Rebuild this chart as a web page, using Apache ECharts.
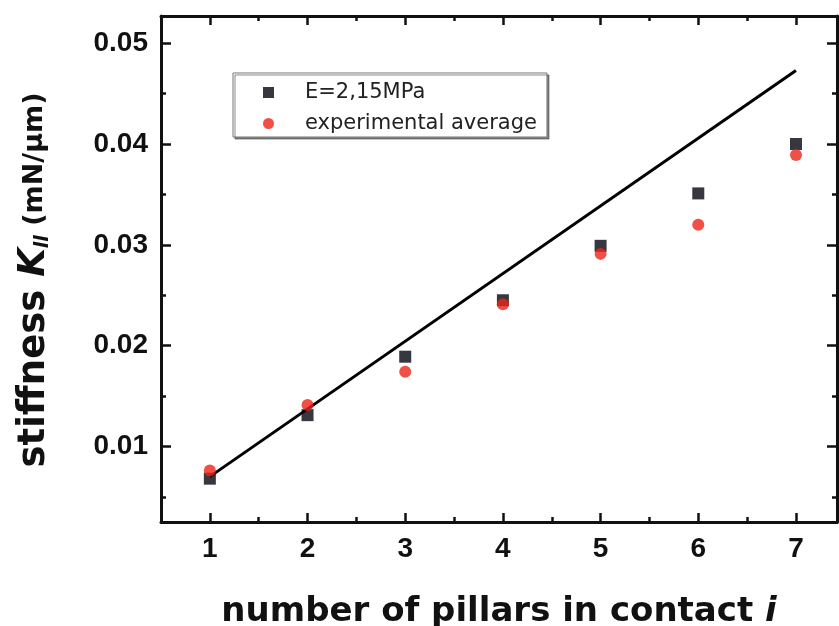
<!DOCTYPE html>
<html>
<head>
<meta charset="utf-8">
<script src="https://cdn.jsdelivr.net/npm/echarts@6/dist/echarts.min.js"></script>
<style>
html,body{margin:0;padding:0;background:#fff;}
#chart{width:839px;height:626px;}
</style>
</head>
<body>
<div id="chart"></div>
<script>
// ---- data ----
const pillars = [1, 2, 3, 4, 5, 6, 7];
const modelE = [0.0068, 0.0131, 0.0189, 0.0245, 0.0299, 0.0351, 0.0400];
const expAvg = [0.0076, 0.0141, 0.0174, 0.0241, 0.0291, 0.0320, 0.0389];
const fitX = [1, 7];
const fitY = [0.0070, 0.0473];
const seriesNames = ['E=2,15MPa', 'experimental average'];
const xMajorTicks = [1, 2, 3, 4, 5, 6, 7];
const xMinorTicks = [1.5, 2.5, 3.5, 4.5, 5.5, 6.5];
const yMajorTicks = [0.01, 0.02, 0.03, 0.04, 0.05];
const yMinorTicks = [0.005, 0.015, 0.025, 0.035, 0.045];

const FONT = 'Liberation Sans, Arial, Helvetica, sans-serif';
const WIDE = 'DejaVu Sans, Liberation Sans, sans-serif';
const X_MIN = 0.5, X_MAX = 7.42, Y_MIN = 0.0025, Y_MAX = 0.0527;
const AX = '#111';

function xAx(pos, ticks, len, showLine, showLabel, extra) {
  return Object.assign({
    type: 'value', position: pos, min: X_MIN, max: X_MAX,
    axisLine: {show: showLine, onZero: false, lineStyle: {color: AX, width: 3}},
    axisTick: {show: true, inside: true, length: len, customValues: ticks, lineStyle: {color: AX, width: 2.5}},
    axisLabel: showLabel ? {show: true, customValues: ticks, fontSize: 28, fontWeight: 'bold', fontFamily: FONT, color: AX, margin: 13} : {show: false},
    splitLine: {show: false}
  }, extra || {});
}
function yAx(pos, ticks, len, showLine, showLabel, extra) {
  return Object.assign({
    type: 'value', position: pos, min: Y_MIN, max: Y_MAX,
    axisLine: {show: showLine, onZero: false, lineStyle: {color: AX, width: 3}},
    axisTick: {show: true, inside: true, length: len, customValues: ticks, lineStyle: {color: AX, width: 2.5}},
    axisLabel: showLabel ? {show: true, customValues: ticks, fontSize: 28, fontWeight: 'bold', fontFamily: FONT, color: AX, margin: 13} : {show: false},
    splitLine: {show: false}
  }, extra || {});
}

const chart = echarts.init(document.getElementById('chart'), null, {renderer: 'canvas'});
chart.setOption({
  backgroundColor: '#fff',
  animation: false,
  grid: {left: 161, right: 2, top: 16, bottom: 104, containLabel: false, outerBoundsMode: 'none'},
  xAxis: [
    xAx('bottom', xMajorTicks, 9, true, true, {
      name: '{n|number of pillars in contact }{i|i}',
      nameLocation: 'middle', nameGap: 73,
      nameTextStyle: {
        rich: {
          n: {fontSize: 34, fontWeight: 'bold', fontFamily: WIDE, color: AX},
          i: {fontSize: 34, fontWeight: 'bold', fontStyle: 'italic', fontFamily: WIDE, color: AX}
        }
      }
    }),
    xAx('bottom', xMinorTicks, 5, false, false),
    xAx('top', xMajorTicks, 9, true, false),
    xAx('top', xMinorTicks, 5, false, false)
  ],
  yAxis: [
    yAx('left', yMajorTicks, 10, true, true, {
      name: '{a|stiffness }{k|K}{s|ll}{b| (mN/\u03bcm)}',
      nameLocation: 'middle', nameGap: 108, nameRotate: 90,
      nameTextStyle: {
        rich: {
          a: {fontSize: 37, fontWeight: 'bold', fontFamily: WIDE, color: AX},
          k: {fontSize: 37, fontWeight: 'bold', fontStyle: 'italic', fontFamily: WIDE, color: AX},
          s: {fontSize: 19, fontWeight: 'bold', fontStyle: 'italic', fontFamily: WIDE, color: AX, verticalAlign: 'bottom', padding: [14, 0, 0, 0]},
          b: {fontSize: 27, fontWeight: 'bold', fontFamily: WIDE, color: AX, padding: [0, 22, 0, 0]}
        }
      }
    }),
    yAx('left', yMinorTicks, 5, false, false),
    yAx('right', yMajorTicks, 10, true, false),
    yAx('right', yMinorTicks, 5, false, false)
  ],
  legend: {
    orient: 'vertical', left: 233, top: 73,
    data: seriesNames,
    itemWidth: 11, itemHeight: 11, itemGap: 10,
    padding: [9, 10, 3, 30],
    borderColor: '#777', borderWidth: 1, backgroundColor: '#fff',
    shadowColor: 'rgba(0,0,0,0.45)', shadowOffsetX: 2, shadowOffsetY: 2, shadowBlur: 0,
    textStyle: {fontSize: 21, fontFamily: WIDE, color: '#222', lineHeight: 21, padding: [0, 0, 0, 26]}
  },
  series: [
    {
      type: 'line', data: fitX.map((x, i) => [x, fitY[i]]),
      xAxisIndex: 0, yAxisIndex: 0,
      symbol: 'none', lineStyle: {color: '#000', width: 3}, z: 2, silent: true
    },
    {
      name: seriesNames[0], type: 'scatter', xAxisIndex: 0, yAxisIndex: 0,
      data: pillars.map((x, i) => [x, modelE[i]]),
      symbol: 'rect', symbolSize: 12,
      itemStyle: {color: '#05050f'}, z: 3
    },
    {
      name: seriesNames[1], type: 'scatter', xAxisIndex: 0, yAxisIndex: 0,
      data: pillars.map((x, i) => [x, expAvg[i]]),
      symbol: 'circle', symbolSize: 12,
      itemStyle: {color: '#ec2418'}, z: 4
    }
  ]
});
</script>
</body>
</html>
